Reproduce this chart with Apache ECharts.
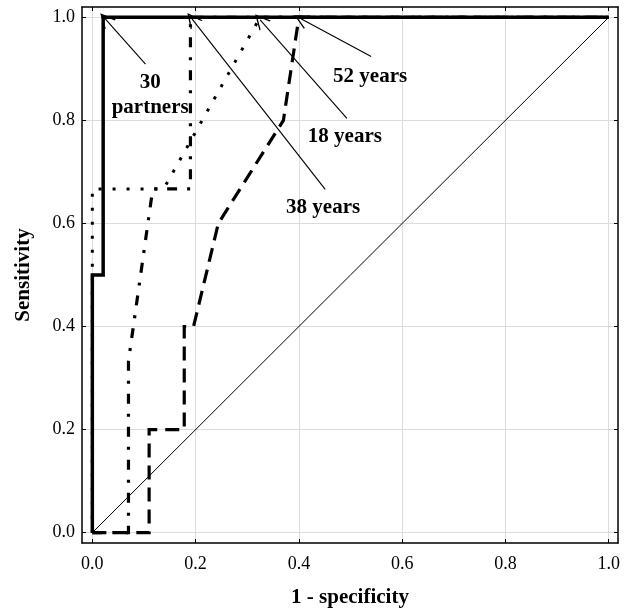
<!DOCTYPE html>
<html>
<head>
<meta charset="utf-8">
<script src="https://cdn.jsdelivr.net/npm/echarts@6/dist/echarts.min.js"></script>
<style>html,body{margin:0;padding:0;background:#fff}#c{width:632px;height:609px}</style>
</head>
<body>
<div id="c"></div>
<script>
// ---- data ----
const tickValues = [0, 0.2, 0.4, 0.6, 0.8, 1.0];
const partners30 = [[0,0],[0,0.5],[0.021,0.5],[0.021,1],[1,1]];
const years18 = [[0,0],[0,0.667],[0.138,0.667],[0.325,1],[1,1]];
const years38 = [[0,0],[0.07,0],[0.07,0.333],[0.117,0.667],[0.19,0.667],[0.19,1],[1,1]];
const years52 = [[0,0],[0.11,0],[0.11,0.2],[0.178,0.2],[0.178,0.4],[0.196,0.4],[0.244,0.6],[0.37,0.8],[0.4,1],[1,1]];
const diagonal = [[0,0],[1,1]];
const annotationLabels = ['30\npartners', '52 years', '18 years', '38 years'];
const annotationPos = [[0.112, 0.85], [0.538, 0.885], [0.489, 0.769], [0.447, 0.631]];
const arrowFrom = [[0.103, 0.909], [0.54, 0.924], [0.493, 0.804], [0.451, 0.666]];
const arrowTo = [[0.025, 0.997], [0.404, 0.997], [0.325, 0.995], [0.193, 0.997]];

const FONT = 'Liberation Serif';
const chart = echarts.init(document.getElementById('c'), null, {renderer: 'canvas'});

function axisBase(isLabel) {
  return {
    type: 'value',
    min: -0.02,
    max: 1.018,
    axisLine: {show: true, onZero: false, lineStyle: {color: '#000', width: 1.5}},
    axisTick: {show: true, inside: true, length: 4, customValues: tickValues, lineStyle: {color: '#000', width: 1}},
    axisLabel: {show: isLabel, customValues: tickValues, formatter: v => Number(v).toFixed(1),
      fontFamily: FONT, fontSize: 18, color: '#000'},
    splitLine: {show: isLabel, lineStyle: {color: '#dcdcdc', width: 1}}
  };
}

const xBottom = Object.assign(axisBase(true), {
  position: 'bottom',
  name: '1 - specificity', nameLocation: 'middle', nameGap: 44,
  nameTextStyle: {fontFamily: FONT, fontSize: 21, fontWeight: 'bold', color: '#000'}
});
xBottom.axisLabel.margin = 12;
const xTop = Object.assign(axisBase(false), {position: 'top'});
const yLeft = Object.assign(axisBase(true), {
  position: 'left', max: 1.02,
  name: 'Sensitivity', nameLocation: 'middle', nameGap: 48,
  nameTextStyle: {fontFamily: FONT, fontSize: 21, fontWeight: 'bold', color: '#000'}
});
yLeft.axisLabel.margin = 7;
const yRight = Object.assign(axisBase(false), {position: 'right', max: 1.02});

function lineSeries(data, type, width, z) {
  return {
    type: 'line', data: data, showSymbol: false, symbol: 'none', z: z,
    lineStyle: {color: '#000', width: width, type: type, cap: 'butt', join: 'miter'},
    silent: true
  };
}

const arrowData = arrowFrom.map((f, i) => ({coords: [f, arrowTo[i]]}));
const labelData = annotationPos.map((p, i) => [p[0], p[1], annotationLabels[i]]);

chart.setOption({
  animation: false,
  backgroundColor: '#fff',
  grid: {left: 82, right: 14, top: 7, bottom: 66, containLabel: false, outerBoundsMode: 'none'},
  xAxis: [xBottom, xTop],
  yAxis: [yLeft, yRight],
  series: [
    lineSeries(diagonal, 'solid', 1, 2),
    lineSeries(years18, [3, 11], 3, 3),
    lineSeries(years38, [10, 10, 3, 10], 3.2, 4),
    lineSeries(years52, [14, 8], 3.2, 5),
    lineSeries(partners30, 'solid', 3.5, 6),
    {
      type: 'lines', coordinateSystem: 'cartesian2d', z: 7, silent: true,
      symbol: ['none', 'path://M0,0 L7,13 L5.6,13 L0,2.6 L-5.6,13 L-7,13 Z'],
      symbolSize: [12, 15],
      lineStyle: {color: '#000', width: 1.1, opacity: 1, curveness: 0},
      data: arrowData
    },
    {
      type: 'scatter', z: 8, silent: true, symbolSize: 0,
      itemStyle: {color: '#000', opacity: 1},
      label: {show: true, position: 'inside', formatter: p => p.data[2],
        fontFamily: FONT, fontSize: 21, fontWeight: 'bold', color: '#000', lineHeight: 25,
        textBorderWidth: 0, opacity: 1},
      data: labelData
    }
  ]
});
</script>
</body>
</html>
